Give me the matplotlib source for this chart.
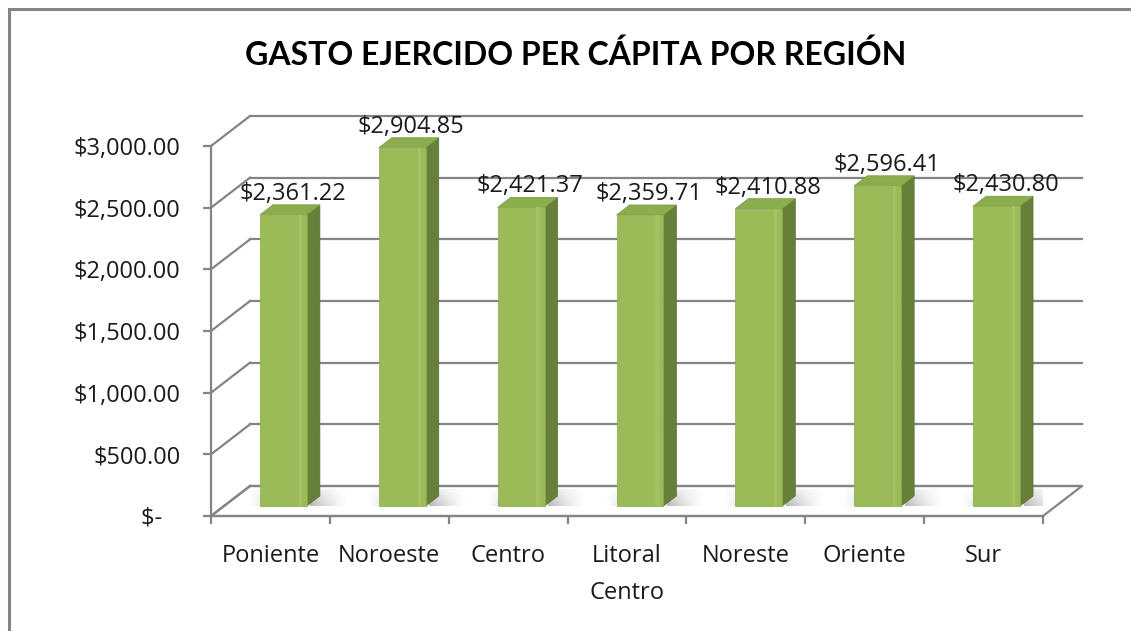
import numpy as np
import matplotlib.pyplot as plt
from matplotlib.patches import Polygon, Rectangle

# gasto ejercido per capita por region (grafica 3D estilo Excel)

regiones = ['Poniente', 'Noroeste', 'Centro', 'Litoral\nCentro', 'Noreste', 'Oriente', 'Sur']
gasto = [2361.22, 2904.85, 2421.37, 2359.71, 2410.88, 2596.41, 2430.80]
ticks_y = [0, 500, 1000, 1500, 2000, 2500, 3000]
etiquetas_y = ['$-   ', '$500.00', '$1,000.00', '$1,500.00', '$2,000.00', '$2,500.00', '$3,000.00']
titulo = 'GASTO EJERCIDO PER CÁPITA POR REGIÓN'

plt.rcParams['font.family'] = ['Open Sans', 'DejaVu Sans']
gris = '#848484'
verde = '#9BBB59'
verde_lado = '#66803A'
verde_tapa = '#8CAD4E'
fs = 17

W, H = 1131, 631
fig = plt.figure(figsize=(W/100, H/100), dpi=100)
# plano frontal en pixeles: x 211-1043, y 146-516
ax_w, ax_h = 832, 370
ax = fig.add_axes([211/W, (H-516)/H, ax_w/W, ax_h/H])
n = len(regiones)

# profundidad (pixeles -> datos)
ddx = 39 * n/ax_w
ddy = 30 * 3000/ax_h

# piso
piso = Polygon([(-0.5, 0), (n-0.5, 0), (n-0.5+ddx, ddy), (-0.5+ddx, ddy)],
               closed=True, facecolor='white', edgecolor=gris, lw=1.6, zorder=1, clip_on=False)
ax.add_patch(piso)

# lineas de la pared trasera y pared izquierda
for t in ticks_y:
    ax.plot([-0.5+ddx, n-0.5+ddx], [t+ddy, t+ddy], color=gris, lw=1.6, zorder=1, clip_on=False)
    ax.plot([-0.5, -0.5+ddx], [t, t+ddy], color=gris, lw=1.6, zorder=1, clip_on=False)

x = np.arange(n)
w = 0.395
d1x, d1y = ddx/3, ddy/3
d2x, d2y = 2*ddx/3, 2*ddy/3

# gradiente de la sombra: oscuro junto a la barra, se desvanece hacia la derecha y hacia el fondo
gx = np.linspace(1, 0, 80)[None, :] ** 1.4
gy = np.linspace(0.35, 1, 40)[:, None]   # fila 0 = arriba (fondo)
sombra_der = np.zeros((40, 80, 4))
sombra_der[..., :3] = 0.3
sombra_der[..., 3] = 0.42 * gx * gy
sombra_izq = sombra_der[:, ::-1].copy()
sombra_izq[..., 3] *= 0.35

for i, v in zip(x, gasto):
    x0 = i - w/2 + d1x
    x1 = i + w/2 + d2x
    forma = Polygon([(x0 - 0.15, d1y), (x1 + 0.40, d1y), (x1 + 0.40, ddy*0.9),
                     (x0 - 0.15, ddy*0.9)], closed=True, transform=ax.transData)
    im = ax.imshow(sombra_der, extent=(x1 - 0.08, x1 + 0.24, d1y, ddy*0.9), aspect='auto',
                   interpolation='bilinear', zorder=2)
    im.set_clip_path(forma)
    im2 = ax.imshow(sombra_izq, extent=(x0 - 0.10, x0 + 0.02, d1y, ddy*0.9), aspect='auto',
                    interpolation='bilinear', zorder=2)
    im2.set_clip_path(forma)

    lado = Polygon([(i+w/2+d1x, d1y), (i+w/2+d2x, d2y), (i+w/2+d2x, v+d2y), (i+w/2+d1x, v+d1y)],
                   closed=True, facecolor=verde_lado, edgecolor='#5A7233', lw=0.5, zorder=3, clip_on=False)
    tapa = Polygon([(i-w/2+d1x, v+d1y), (i+w/2+d1x, v+d1y), (i+w/2+d2x, v+d2y), (i-w/2+d2x, v+d2y)],
                   closed=True, facecolor=verde_tapa, edgecolor='#789A40', lw=0.5, zorder=3, clip_on=False)
    ax.add_patch(lado)
    ax.add_patch(tapa)

ax.set_xlim(-0.5, n-0.5)
ax.set_ylim(0, 3000)
ax.patch.set_alpha(0)

ax.bar(x+d1x, gasto, bottom=d1y, width=w, color=verde, edgecolor='#89A84C', lw=0.5, zorder=4, clip_on=False)
# brillo del bisel
ax.bar(x+d1x+w*0.36, gasto, bottom=d1y, width=w*0.07, color='#A4C264', lw=0, zorder=5, clip_on=False)

for i, v in zip(x, gasto):
    ax.annotate(f'${v:,.2f}', xy=(i, v), xytext=(22, 31), textcoords='offset pixels',
                ha='center', va='center', fontsize=fs, color='#1a1a1a', zorder=6, annotation_clip=False)

for s in ['top', 'right']:
    ax.spines[s].set_visible(False)
ax.spines['left'].set_color(gris)
ax.spines['bottom'].set_color(gris)
ax.spines['left'].set_linewidth(1.6)
ax.spines['bottom'].set_linewidth(1.6)
ax.spines['left'].set_zorder(7)

ax.set_yticks(ticks_y)
ax.set_yticklabels(etiquetas_y, fontsize=fs, color='#1a1a1a')
ax.tick_params(axis='y', length=6, width=1.6, color=gris, pad=16)

ax.set_xticks(np.arange(-0.5, n, 1.0))
ax.set_xticklabels([])
ax.set_xticks(x, minor=True)
ax.set_xticklabels(regiones, minor=True, fontsize=fs, color='#1a1a1a', linespacing=1.75)
ax.tick_params(axis='x', which='major', length=6, width=1.6, color=gris)
ax.tick_params(axis='x', which='minor', length=0, pad=20)

fig.text(576/W, 1-55/H, titulo, ha='center', va='center', fontsize=23, weight='bold',
         family=['Lato', 'DejaVu Sans'], color='black')

fig.patches.append(Rectangle((9/W, -0.1), 1.2, (H-9)/H+0.1, transform=fig.transFigure,
                             fill=False, edgecolor=gris, lw=2.2))

fig.savefig('out.png', dpi=100)
